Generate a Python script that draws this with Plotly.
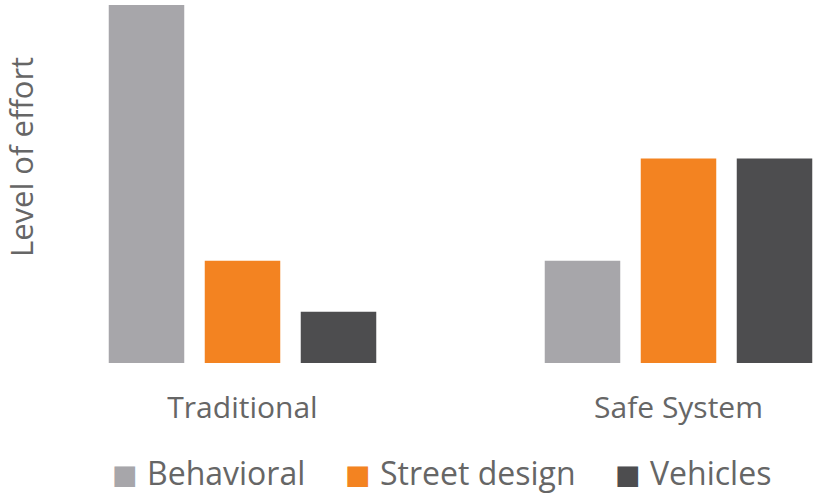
import plotly.graph_objects as go

categories = ["Traditional", "Safe System"]
series_names = ["Behavioral", "Street design", "Vehicles"]
behavioral = [7, 2]
street_design = [2, 4]
vehicles = [1, 4]
series_values = [behavioral, street_design, vehicles]
colors = ["#A7A6AA", "#F38321", "#4D4D4F"]

TEXT = "#666666"
FONT = "Open Sans"
W, H = 817, 495
L, R, T, B = 100, 0, 5, 132

fig = go.Figure()
for name, vals, col in zip(series_names, series_values, colors):
    fig.add_trace(go.Bar(x=categories, y=vals, name=name, marker_color=col,
                         marker_line_width=0, showlegend=False))

pw = W - L - R
ph = H - T - B
unit = 436.0  # px per category
x0 = -(242.5 - L) / unit
x1 = (W - R - 242.5) / unit

fig.update_layout(
    width=W, height=H,
    margin=dict(l=L, r=R, t=T, b=B, pad=0),
    paper_bgcolor="white", plot_bgcolor="white",
    barmode="group", bargap=0.3394, bargroupgap=0.2135,
    font=dict(family=FONT, color=TEXT, size=30),
    xaxis=dict(range=[x0, x1], showline=False, showgrid=False, zeroline=False,
               ticks="", ticklabelstandoff=24,
               tickfont=dict(family=FONT, size=30, color=TEXT)),
    yaxis=dict(range=[0, 7], showline=False, showgrid=False, zeroline=False,
               showticklabels=False, ticks=""),
)

def px_x(p):
    return (p - L) / pw

def px_y(p):
    return (T + ph - p) / ph

fig.add_annotation(text="Level of effort", xref="paper", yref="paper",
                   x=px_x(21), y=px_y(157), textangle=-90, showarrow=False,
                   xanchor="center", yanchor="middle",
                   font=dict(family=FONT, size=31, color=TEXT))

legend_sq = [125, 358, 628]
legend_tx = [145, 378, 648]
for name, col, sx, tx in zip(series_names, colors, legend_sq, legend_tx):
    fig.add_annotation(
        text="■", xref="paper", yref="paper", x=px_x(sx), y=px_y(474),
        xanchor="center", yanchor="middle", showarrow=False,
        font=dict(family="DejaVu Sans", size=27, color=col))
    fig.add_annotation(
        text=name, xref="paper", yref="paper", x=px_x(tx), y=px_y(472),
        xanchor="left", yanchor="middle", showarrow=False,
        font=dict(family=FONT, size=32, color=TEXT))

fig.write_html("out.html")
